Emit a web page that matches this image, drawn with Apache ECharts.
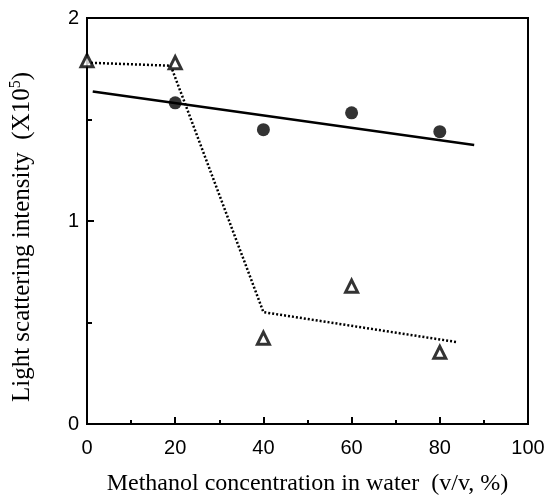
<!DOCTYPE html>
<html><head><meta charset="utf-8">
<script src="https://cdn.jsdelivr.net/npm/echarts@6/dist/echarts.min.js"></script>
<style>html,body{margin:0;padding:0;background:#fff}#c{width:548px;height:501px}</style>
</head><body><div id="c"></div>
<script>
const circleX = [20, 40, 60, 80];
const circleY = [1.582, 1.45, 1.533, 1.44];
const triX = [0, 20, 40, 60, 80];
const triY = [1.79, 1.78, 0.423, 0.679, 0.353];
const solidLineX = [1.3, 87.8];
const solidLineY = [1.638, 1.374];
const dottedLineX = [0, 19, 40, 83.7];
const dottedLineY = [1.78, 1.765, 0.551, 0.404];
const xTicks = [0, 20, 40, 60, 80, 100];
const yTicks = [0, 1, 2];

const zip = (a, b) => a.map((v, i) => [v, b[i]]);
const chart = echarts.init(document.getElementById('c'));
const sans = 'Liberation Sans';
const serif = 'Liberation Serif';
chart.setOption({
  animation: false,
  grid: {left: 86, right: 20, top: 18, bottom: 72, show: true, borderColor: '#000', borderWidth: 2},
  xAxis: {
    type: 'value', min: xTicks[0], max: xTicks[xTicks.length-1], interval: 20,
    axisLine: {lineStyle: {color: '#000', width: 2}},
    axisTick: {inside: true, length: 7, lineStyle: {color: '#000', width: 2}},
    minorTick: {show: true, splitNumber: 2, length: 4, lineStyle: {color: '#000', width: 2}},
    splitLine: {show: false},
    axisLabel: {color: '#000', fontFamily: sans, fontSize: 20, margin: 14},
    name: 'Methanol concentration in water  (v/v, %)',
    nameLocation: 'middle', nameGap: 48,
    nameTextStyle: {color: '#000', fontFamily: serif, fontSize: 24}
  },
  yAxis: {
    type: 'value', min: yTicks[0], max: yTicks[yTicks.length-1], interval: 1,
    axisLine: {lineStyle: {color: '#000', width: 2}},
    axisTick: {inside: true, length: 7, lineStyle: {color: '#000', width: 2}},
    minorTick: {show: true, splitNumber: 2, length: 5, lineStyle: {color: '#000', width: 2}},
    splitLine: {show: false},
    axisLabel: {color: '#000', fontFamily: sans, fontSize: 20, margin: 8, padding: [6, 0, 0, 0]},
    name: 'Light scattering intensity  (X10{s|5})',
    nameLocation: 'middle', nameGap: 50,
    nameTextStyle: {color: '#000', fontFamily: serif, fontSize: 25, padding: [0, 32, 0, 0],
      rich: {s: {fontFamily: serif, fontSize: 16, verticalAlign: 'top', padding: [0,0,13,0]}}}
  },
  series: [
    {type: 'line', data: zip(solidLineX, solidLineY), symbol: 'none',
     lineStyle: {color: '#000', width: 2.5}, z: 2},
    {type: 'line', data: zip(dottedLineX, dottedLineY), symbol: 'none',
     lineStyle: {color: '#000', width: 2.5, type: [2, 2]}, z: 2},
    {type: 'scatter', data: zip(circleX, circleY), symbol: 'circle', symbolSize: 13,
     itemStyle: {color: '#000'}, z: 3},
    {type: 'scatter', data: zip(triX, triY), symbol: 'triangle', symbolSize: 12,
     itemStyle: {color: '#fff', borderColor: '#000', borderWidth: 3}, z: 3}
  ]
});
</script></body></html>
